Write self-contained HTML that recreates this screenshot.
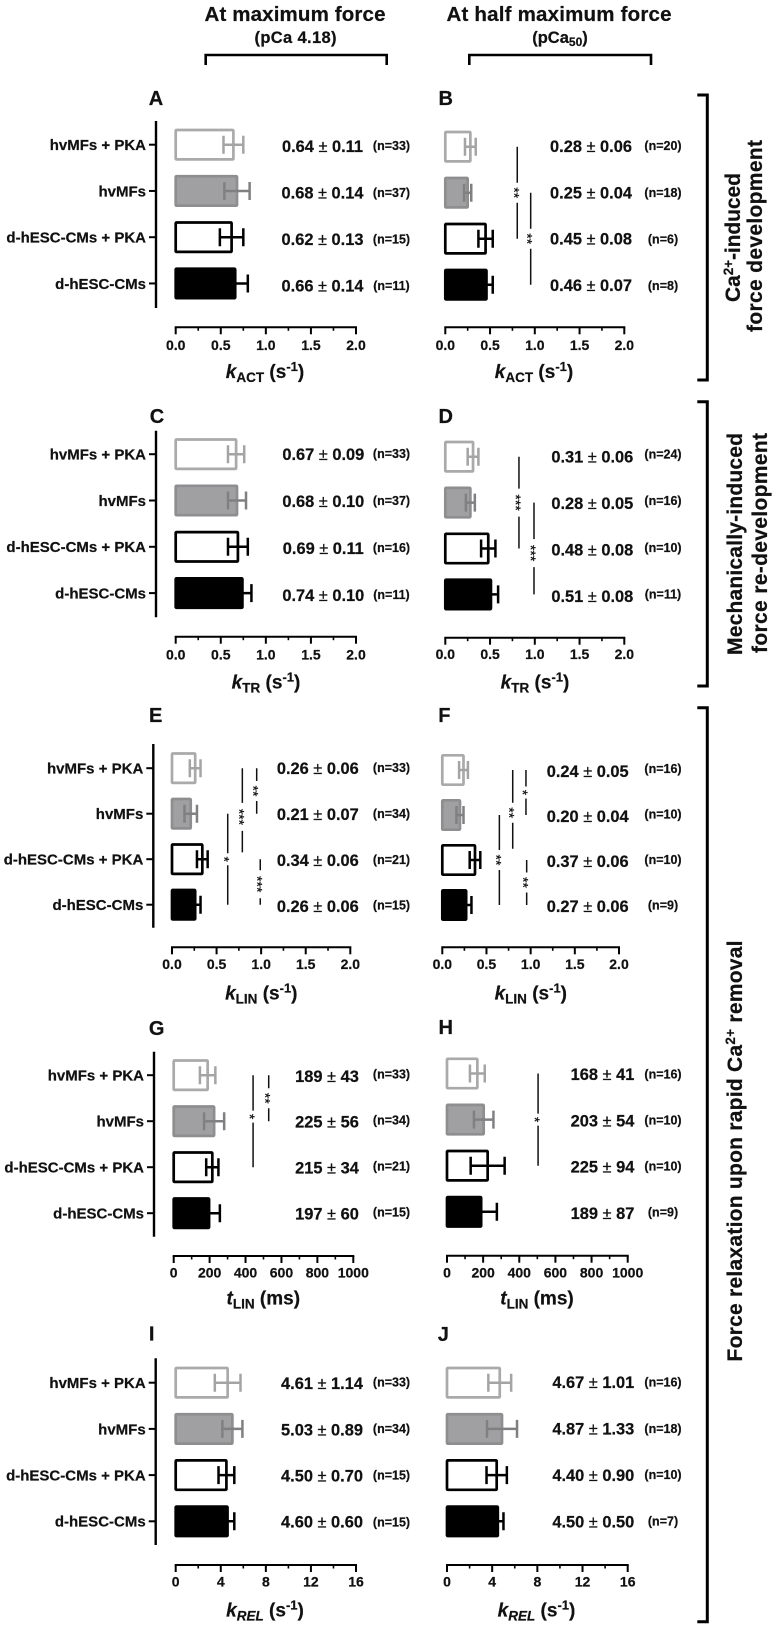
<!DOCTYPE html>
<html lang="en">
<head>
<meta charset="utf-8">
<title>Force kinetics bar charts</title>
<style>
html,body{margin:0;padding:0;background:#fff;}
svg{display:block;filter:blur(0.35px);font-family:"Liberation Sans",Arial,sans-serif;}
text{fill:#111;font-weight:bold;stroke:#111;stroke-width:0.22px;}
</style>
</head>
<body>
<svg id="figure" xmlns="http://www.w3.org/2000/svg" width="777" height="1629" viewBox="0 0 777 1629">
  <rect x="0" y="0" width="777" height="1629" fill="#fff"/>

  <text x="295" y="21" font-size="20.5" text-anchor="middle" textLength="181" lengthAdjust="spacing">At maximum force</text>
  <text x="295.5" y="43" font-size="16.5" text-anchor="middle" textLength="82" lengthAdjust="spacing">(pCa 4.18)</text>
  <path d="M205.7 65V55H386.7V65" fill="none" stroke="#000" stroke-width="2.6"/>

  <text x="559" y="21" font-size="20.5" text-anchor="middle" textLength="225" lengthAdjust="spacing">At half maximum force</text>
  <text x="560" y="43" font-size="16.5" text-anchor="middle">(pCa<tspan font-size="12" dy="3">50</tspan><tspan dy="-3">)</tspan></text>
  <path d="M469.3 65V55H651V65" fill="none" stroke="#000" stroke-width="2.6"/>

  <path d="M697.3 95H707.3V380H697.3" fill="none" stroke="#000" stroke-width="3"/>
  <text transform="translate(740,237.5) rotate(-90)" font-size="21" text-anchor="middle" textLength="129" lengthAdjust="spacing">Ca<tspan font-size="13.5" dy="-7">2+</tspan><tspan dy="7">-induced</tspan></text>
  <text transform="translate(762,236) rotate(-90)" font-size="21" text-anchor="middle" textLength="192" lengthAdjust="spacing">force development</text>

  <path d="M697.3 401.7H707.3V686H697.3" fill="none" stroke="#000" stroke-width="3"/>
  <text transform="translate(742,544) rotate(-90)" font-size="21" text-anchor="middle" textLength="222" lengthAdjust="spacing">Mechanically-induced</text>
  <text transform="translate(767,543) rotate(-90)" font-size="21" text-anchor="middle" textLength="220" lengthAdjust="spacing">force re-development</text>

  <path d="M697.3 707.7H707.3V1621.7H697.3" fill="none" stroke="#000" stroke-width="3"/>
  <text transform="translate(742,1151) rotate(-90)" font-size="21" text-anchor="middle" textLength="421" lengthAdjust="spacing">Force relaxation upon rapid Ca<tspan font-size="13.5" dy="-7">2+</tspan><tspan dy="7"> removal</tspan></text>
</svg>

<script>
// ---- Data ----
const categories = ['hvMFs + PKA', 'hvMFs', 'd-hESC-CMs + PKA', 'd-hESC-CMs'];

const rateTickValues = [0, 0.5, 1, 1.5, 2];
const rateTickLabels = ['0.0', '0.5', '1.0', '1.5', '2.0'];
const timeTickValues = [0, 200, 400, 600, 800, 1000];
const timeTickLabels = ['0', '200', '400', '600', '800', '1000'];
const relTickValues = [0, 4, 8, 12, 16];
const relTickLabels = ['0', '4', '8', '12', '16'];

const panelAValues = [0.64, 0.68, 0.62, 0.66];
const panelASem = [0.11, 0.14, 0.13, 0.14];
const panelAN = [33, 37, 15, 11];
const panelASig = [];

const panelBValues = [0.28, 0.25, 0.45, 0.46];
const panelBSem = [0.06, 0.04, 0.08, 0.07];
const panelBN = [20, 18, 6, 8];
const panelBSig = [
  { at: 0.804, from: 0, to: 2, mark: 1, stars: '**' },
  { at: 0.954, from: 1, to: 3, mark: 2, stars: '**' }
];

const panelCValues = [0.67, 0.68, 0.69, 0.74];
const panelCSem = [0.09, 0.10, 0.11, 0.10];
const panelCN = [33, 37, 16, 11];
const panelCSig = [];

const panelDValues = [0.31, 0.28, 0.48, 0.51];
const panelDSem = [0.06, 0.05, 0.08, 0.08];
const panelDN = [24, 16, 10, 11];
const panelDSig = [
  { at: 0.823, from: 0, to: 2, mark: 1, stars: '***' },
  { at: 0.991, from: 1, to: 3, mark: 2.1, stars: '***' }
];

const panelEValues = [0.26, 0.21, 0.34, 0.26];
const panelESem = [0.06, 0.07, 0.06, 0.06];
const panelEN = [33, 34, 21, 15];
const panelESig = [
  { at: 0.95, from: 0, to: 1, mark: 0.5, stars: '**' },
  { at: 0.789, from: 0, to: 1.85, mark: 1.07, stars: '***' },
  { at: 0.625, from: 1, to: 3, mark: 2, stars: '*' },
  { at: 0.99, from: 2, to: 3, mark: 2.55, stars: '***' }
];

const panelFValues = [0.24, 0.20, 0.37, 0.27];
const panelFSem = [0.05, 0.04, 0.06, 0.06];
const panelFN = [16, 10, 10, 9];
const panelFSig = [
  { at: 0.947, from: 0, to: 1, mark: 0.5, stars: '*' },
  { at: 0.797, from: 0, to: 1.75, mark: 0.95, stars: '**' },
  { at: 0.646, from: 1, to: 3, mark: 2, stars: '**' },
  { at: 0.955, from: 2, to: 3, mark: 2.5, stars: '**' }
];

const panelGValues = [189, 225, 215, 197];
const panelGSem = [43, 56, 34, 60];
const panelGN = [33, 34, 21, 15];
const panelGSig = [
  { at: 529, from: 0, to: 1, mark: 0.5, stars: '**' },
  { at: 442, from: 0, to: 2, mark: 0.9, stars: '*' }
];

const panelHValues = [168, 203, 225, 189];
const panelHSem = [41, 54, 94, 87];
const panelHN = [16, 10, 10, 9];
const panelHSig = [
  { at: 504, from: 0, to: 2, mark: 1, stars: '*' }
];

const panelIValues = [4.61, 5.03, 4.50, 4.60];
const panelISem = [1.14, 0.89, 0.70, 0.60];
const panelIN = [33, 34, 15, 15];
const panelISig = [];

const panelJValues = [4.67, 4.87, 4.40, 4.50];
const panelJSem = [1.01, 1.33, 0.90, 0.50];
const panelJN = [16, 18, 10, 7];
const panelJSig = [];

// ---- Bar styles per category ----
const barFills = ['#fff', '#a0a0a2', '#fff', '#000'];
const barStrokes = ['#aaaaaa', '#8e8e90', '#000', '#000'];
const errorStrokes = ['#a4a4a4', '#808082', '#000', '#000'];

// ---- Panel layout ----
const panels = [
  { id: 'a', letter: 'A', lx: 156, ly: 98, values: panelAValues, sem: panelASem, n: panelAN, sig: panelASig, ticks: rateTickValues, labels: rateTickLabels, max: 2, dp: 2, x0: 175.7, x1: 356, axisY: 327.3, tickY: 345, titleY: 372, titleX: 265, sym: 'k', sub: 'ACT', unit: 's', row: 144.7, step: 46.25, vx: 322.5, vy: 146, vs: 46.6, nx: 391.5, ny: 145.7, ns: 46.6, axisX: 156, yTop: 121, yBot: 308 },
  { id: 'b', letter: 'B', lx: 445.7, ly: 98, values: panelBValues, sem: panelBSem, n: panelBN, sig: panelBSig, ticks: rateTickValues, labels: rateTickLabels, max: 2, dp: 2, x0: 445.3, x1: 624.3, axisY: 327.3, tickY: 345, titleY: 372, titleX: 534, sym: 'k', sub: 'ACT', unit: 's', row: 146.7, step: 46, vx: 591, vy: 146, vs: 46.4, nx: 663, ny: 145.7, ns: 46.6 },
  { id: 'c', letter: 'C', lx: 157, ly: 415.7, values: panelCValues, sem: panelCSem, n: panelCN, sig: panelCSig, ticks: rateTickValues, labels: rateTickLabels, max: 2, dp: 2, x0: 175.7, x1: 356, axisY: 636.7, tickY: 654.3, titleY: 682.7, titleX: 266, sym: 'k', sub: 'TR', unit: 's', row: 454.2, step: 46.3, vx: 323.3, vy: 454.3, vs: 46.9, nx: 391.5, ny: 453.3, ns: 47, axisX: 156, yTop: 430.7, yBot: 617.3 },
  { id: 'd', letter: 'D', lx: 445.7, ly: 415.7, values: panelDValues, sem: panelDSem, n: panelDN, sig: panelDSig, ticks: rateTickValues, labels: rateTickLabels, max: 2, dp: 2, x0: 445.3, x1: 624.3, axisY: 637.7, tickY: 654, titleY: 682.7, titleX: 535, sym: 'k', sub: 'TR', unit: 's', row: 456.7, step: 45.9, vx: 592.3, vy: 456.7, vs: 46.4, nx: 663, ny: 454, ns: 46.7 },
  { id: 'e', letter: 'E', lx: 155.7, ly: 715, values: panelEValues, sem: panelESem, n: panelEN, sig: panelESig, ticks: rateTickValues, labels: rateTickLabels, max: 2, dp: 2, x0: 172, x1: 350.3, axisY: 947.3, tickY: 964, titleY: 993.3, titleX: 261.3, sym: 'k', sub: 'LIN', unit: 's', row: 768.2, step: 45.5, vx: 317.8, vy: 768.3, vs: 45.9, nx: 391.5, ny: 767.7, ns: 45.8, axisX: 153.3, yTop: 744, yBot: 927.7 },
  { id: 'f', letter: 'F', lx: 444.3, ly: 715, values: panelFValues, sem: panelFSem, n: panelFN, sig: panelFSig, ticks: rateTickValues, labels: rateTickLabels, max: 2, dp: 2, x0: 442.3, x1: 619, axisY: 947.3, tickY: 964, titleY: 993.3, titleX: 530.8, sym: 'k', sub: 'LIN', unit: 's', row: 770, step: 45, vx: 587.7, vy: 771, vs: 45, nx: 663, ny: 768.3, ns: 45.6 },
  { id: 'g', letter: 'G', lx: 156.7, ly: 1027.7, values: panelGValues, sem: panelGSem, n: panelGN, sig: panelGSig, ticks: timeTickValues, labels: timeTickLabels, max: 1000, dp: 0, x0: 173.7, x1: 353.3, axisY: 1256, tickY: 1272.7, titleY: 1298.3, titleX: 263.3, sym: 't', sub: 'LIN', unit: 'ms', row: 1075.2, step: 46, vx: 327, vy: 1076, vs: 45.8, nx: 391.5, ny: 1074, ns: 46, axisX: 154, yTop: 1051.7, yBot: 1236.7 },
  { id: 'h', letter: 'H', lx: 445.7, ly: 1026.7, values: panelHValues, sem: panelHSem, n: panelHN, sig: panelHSig, ticks: timeTickValues, labels: timeTickLabels, max: 1000, dp: 0, x0: 447, x1: 627.7, axisY: 1255.7, tickY: 1272.7, titleY: 1298.3, titleX: 537, sym: 't', sub: 'LIN', unit: 'ms', row: 1073.5, step: 46.1, vx: 602.5, vy: 1074, vs: 46.4, nx: 663, ny: 1074, ns: 46 },
  { id: 'i', letter: 'I', lx: 151.7, ly: 1333.3, values: panelIValues, sem: panelISem, n: panelIN, sig: panelISig, ticks: relTickValues, labels: relTickLabels, max: 16, dp: 2, x0: 175.7, x1: 356, axisY: 1565, tickY: 1581.7, titleY: 1610.7, titleX: 265, sym: 'k', sub: 'REL', subItalic: true, unit: 's', row: 1382.7, step: 46.2, vx: 322, vy: 1383.3, vs: 46.1, nx: 391.5, ny: 1382, ns: 46.6, axisX: 155.7, yTop: 1358.3, yBot: 1545 },
  { id: 'j', letter: 'J', lx: 443.3, ly: 1334, values: panelJValues, sem: panelJSem, n: panelJN, sig: panelJSig, ticks: relTickValues, labels: relTickLabels, max: 16, dp: 2, x0: 447, x1: 627.7, axisY: 1565, tickY: 1581.7, titleY: 1610.7, titleX: 536.5, sym: 'k', sub: 'REL', subItalic: true, unit: 's', row: 1382.7, step: 46.2, vx: 593.3, vy: 1382, vs: 46.6, nx: 663, ny: 1382, ns: 46.3 }
];

// ---- Drawing ----
const NS = 'http://www.w3.org/2000/svg';
const figure = document.getElementById('figure');

function make(tag, attrs, parent) {
  const el = document.createElementNS(NS, tag);
  for (const key in attrs) el.setAttribute(key, attrs[key]);
  parent.appendChild(el);
  return el;
}
function xScale(p, value) {
  return p.x0 + (value / p.max) * (p.x1 - p.x0);
}
function rowY(p, index) {
  return p.row + index * p.step;
}
function centred(size, cy) {
  return cy + size * 0.358;
}
function tspan(parent, text, attrs) {
  const el = make('tspan', attrs || {}, parent);
  el.textContent = text;
  return el;
}
function slug(text) {
  return text.toLowerCase().replace(/[^a-z0-9]+/g, '-');
}

function drawXAxis(p, group) {
  const axis = make('g', {}, group);
  
  
  const line = make('line', { x1: p.x0 - 1, x2: p.x1 + 1, y1: p.axisY, y2: p.axisY, stroke: '#000', 'stroke-width': 2 }, axis);
  
  
  p.ticks.forEach(function (value, i) {
    const x = xScale(p, value);
    const tick = make('line', { x1: x, x2: x, y1: p.axisY, y2: p.axisY + 7, stroke: '#000', 'stroke-width': 2 }, axis);
    
    
    const lab = make('text', { x: x, y: centred(14, p.tickY), 'font-size': 14, 'text-anchor': 'middle' }, axis);
    lab.textContent = p.labels[i];
    
    
    if (i < p.ticks.length - 1) {
      const mx = xScale(p, (value + p.ticks[i + 1]) / 2);
      const minor = make('line', { x1: mx, x2: mx, y1: p.axisY, y2: p.axisY + 3.5, stroke: '#000', 'stroke-width': 1.6 }, axis);
      
      
    }
  });
  const title = make('text', { x: p.titleX, y: p.titleY + 6, 'font-size': 19, 'text-anchor': 'middle' }, axis);
  
  
  tspan(title, p.sym, { 'font-style': 'italic' });
  const subAttrs = { 'font-size': 13.5, dy: 4 };
  if (p.subItalic) subAttrs['font-style'] = 'italic';
  tspan(title, p.sub, subAttrs);
  tspan(title, ' (' + p.unit, { dy: -4 });
  if (p.unit === 's') {
    tspan(title, '-1', { 'font-size': 13, dy: -7 });
    tspan(title, ')', { dy: 7 });
  } else {
    tspan(title, ')', {});
  }
}

function drawYAxis(p, group) {
  if (p.axisX === undefined) return;
  const axis = make('g', {}, group);
  
  
  const line = make('line', { x1: p.axisX, x2: p.axisX, y1: p.yTop, y2: p.yBot, stroke: '#000', 'stroke-width': 2.4 }, axis);
  
  
  categories.forEach(function (name, i) {
    const y = rowY(p, i);
    const tick = make('line', { x1: p.axisX - 7, x2: p.axisX, y1: y, y2: y, stroke: '#000', 'stroke-width': 2 }, axis);
    
    
    const lab = make('text', { x: p.axisX - 10, y: centred(15, y), 'font-size': 15, 'text-anchor': 'end' }, axis);
    lab.textContent = name;
    
    
  });
}

function drawBars(p, group) {
  p.values.forEach(function (value, i) {
    const y = rowY(p, i);
    const name = slug(categories[i]);
    const bar = make('rect', {
      x: xScale(p, 0), y: y - 14.7, width: xScale(p, value) - xScale(p, 0), height: 29.4, rx: 0.8,
      fill: barFills[i], stroke: barStrokes[i], 'stroke-width': 2.7
    }, group);
    
    
    const low = xScale(p, value - p.sem[i]);
    const high = xScale(p, value + p.sem[i]);
    const err = make('path', {
      d: 'M' + low + ' ' + (y - 9) + 'V' + (y + 9) + 'M' + low + ' ' + y + 'H' + high + 'M' + high + ' ' + (y - 9) + 'V' + (y + 9),
      fill: 'none', stroke: errorStrokes[i], 'stroke-width': 2.5
    }, group);
    
    
  });
}

function drawValueLabels(p, group) {
  p.values.forEach(function (value, i) {
    const name = slug(categories[i]);
    const readout = make('text', { x: p.vx, y: centred(16.4, p.vy + i * p.vs), 'font-size': 16.4, 'text-anchor': 'middle' }, group);
    
    
    tspan(readout, value.toFixed(p.dp) + ' ');
    tspan(readout, '\u00B1', { 'font-weight': 'normal' });
    tspan(readout, ' ' + p.sem[i].toFixed(p.dp));
    const count = make('text', { x: p.nx, y: centred(12.5, p.ny + i * p.ns), 'font-size': 12.5, 'text-anchor': 'middle' }, group);
    count.textContent = '(n=' + p.n[i] + ')';
    
    
  });
}

function drawSignificance(p, group) {
  p.sig.forEach(function (s) {
    const x = xScale(p, s.at);
    const top = rowY(p, s.from);
    const bottom = rowY(p, s.to);
    const mid = rowY(p, s.mark);
    const half = s.stars.length * 4 + 2;
    const line = make('path', {
      d: 'M' + x + ' ' + top + 'V' + (mid - half) + 'M' + x + ' ' + (mid + half) + 'V' + bottom,
      fill: 'none', stroke: '#111', 'stroke-width': 1.5
    }, group);
    
    
    const stars = make('text', {
      transform: 'translate(' + x + ',' + mid + ') rotate(90)',
      x: 0, y: 8, 'font-size': 14, 'text-anchor': 'middle'
    }, group);
    stars.textContent = s.stars;
    
    
    stars.style.fontWeight = 'normal';
  });
}

panels.forEach(function (p) {
  const group = make('g', {}, figure);
  
  
  const letter = make('text', { x: p.lx, y: centred(20, p.ly), 'font-size': 20, 'text-anchor': 'middle' }, group);
  letter.textContent = p.letter;
  
  
  drawYAxis(p, group);
  drawBars(p, group);
  drawSignificance(p, group);
  drawValueLabels(p, group);
  drawXAxis(p, group);
});
</script>
</body>
</html>
